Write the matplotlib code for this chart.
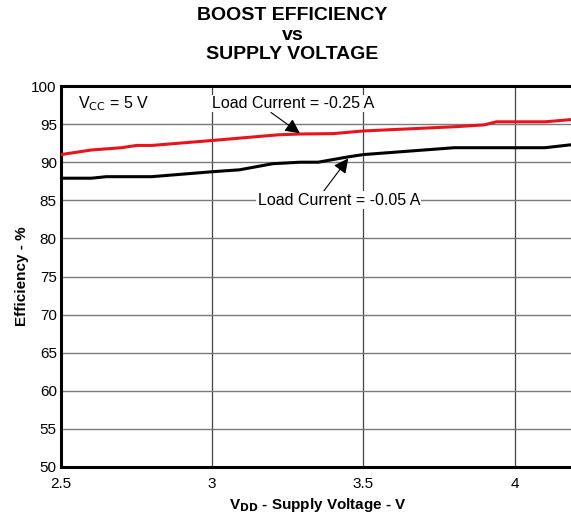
import numpy as np
import matplotlib.pyplot as plt

plt.rcParams['font.family'] = ['Liberation Sans', 'DejaVu Sans']

# ── data ──────────────────────────────────────────────────────────────────────
vdd_025 = [2.5, 2.6, 2.7, 2.75, 2.8, 3.0, 3.22, 3.29, 3.4, 3.5, 3.8, 3.9, 3.94, 4.1, 4.19]
eff_025 = [91.0, 91.6, 91.9, 92.2, 92.2, 92.85, 93.6, 93.7, 93.75, 94.1, 94.65, 94.9, 95.3, 95.3, 95.6]

vdd_005 = [2.5, 2.6, 2.65, 2.8, 3.0, 3.09, 3.2, 3.29, 3.35, 3.45, 3.5, 3.8, 4.1, 4.19]
eff_005 = [87.9, 87.9, 88.1, 88.1, 88.75, 89.0, 89.8, 90.0, 90.0, 90.7, 91.0, 91.9, 91.9, 92.3]

x_ticks = [2.5, 3, 3.5, 4]
y_ticks = [50, 55, 60, 65, 70, 75, 80, 85, 90, 95, 100]

# ── plot ──────────────────────────────────────────────────────────────────────
W, H = 571, 519
fig = plt.figure(figsize=(W / 100, H / 100), dpi=100)
# axes continues past the right edge, like the cropped original
ax = fig.add_axes([61 / W, (H - 467) / H, 514 / W, 381 / H])

ax.plot(vdd_025, eff_025, color='#e8141c', lw=2.2, zorder=3)
ax.plot(vdd_005, eff_005, color='black', lw=2.2, zorder=3)

ax.set_xlim(2.5, 4.2)
ax.set_ylim(50, 100)
ax.set_xticks(x_ticks)
ax.set_xticklabels(['2.5', '3', '3.5', '4'])
ax.set_yticks(y_ticks)
ax.tick_params(length=0, labelsize=11)
ax.tick_params(axis='x', pad=7)
ax.tick_params(axis='y', pad=3)

ax.xaxis.grid(True, color='#444444', lw=0.9)
ax.yaxis.grid(True, color='#7a7a7a', lw=1.0)
ax.set_axisbelow(True)
for side in ['left', 'bottom', 'top']:
    ax.spines[side].set_linewidth(2.2)
ax.spines['right'].set_visible(False)

ax.set_xlabel('V$_{\\mathbf{DD}}$ - Supply Voltage - V', fontsize=11, fontweight='bold', labelpad=4)
ax.set_ylabel('Efficiency - %', fontsize=11, fontweight='bold', labelpad=2)
fig.text(0.512, 1 - 7 / H, 'BOOST EFFICIENCY\nvs\nSUPPLY VOLTAGE', ha='center', va='top',
         fontsize=14, fontweight='bold', linespacing=1.2)

ax.text(2.555, 97.7, 'V$_{\\mathrm{CC}}$ = 5 V', fontsize=11.5, va='center')

arrow = dict(arrowstyle='-|>', color='black', lw=0.8, mutation_scale=22, shrinkA=0, shrinkB=0)
ax.annotate('Load Current = -0.25 A', xy=(3.29, 93.8), xytext=(3.0, 97.7),
            fontsize=11.5, va='center', ha='left',
            bbox=dict(facecolor='white', edgecolor='none', pad=1),
            arrowprops=dict(arrow, relpos=(0.35, 0.0)), zorder=4)
ax.annotate('Load Current = -0.05 A', xy=(3.45, 90.5), xytext=(3.15, 85.0),
            fontsize=11.5, va='center', ha='left',
            bbox=dict(facecolor='white', edgecolor='none', pad=1),
            arrowprops=dict(arrow, relpos=(0.4, 1.0)), zorder=4)

fig.savefig('out.png', dpi=100)
